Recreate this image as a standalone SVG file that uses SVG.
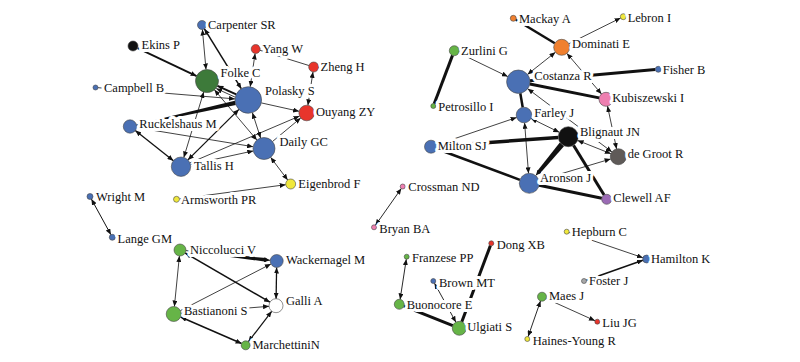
<svg xmlns="http://www.w3.org/2000/svg" width="800" height="362" viewBox="0 0 800 362">
<defs>
<marker id="ah" markerUnits="userSpaceOnUse" markerWidth="6" markerHeight="5" refX="6" refY="2.5" orient="auto-start-reverse">
<path d="M0,0 L6,2.5 L0,5 z" fill="#111"/>
</marker>
<style>
.e{stroke:#111;fill:none;stroke-width:0.8}
.m{stroke-width:1.3}
.t{stroke-width:3}
.w{fill:#111;stroke:none}
.a{marker-end:url(#ah)}
.b{marker-start:url(#ah);marker-end:url(#ah)}
circle{stroke:#444;stroke-width:0.6}
text{font-family:"Liberation Serif","Times New Roman",serif;font-size:12.5px;fill:#111;stroke:#fff;stroke-width:6;stroke-linejoin:round;paint-order:stroke}
.bl{fill:#4a70b4}.gd{fill:#3d7a3a}.gr{fill:#66b447}.rd{fill:#e8352c}.ye{fill:#f0e83c}.or{fill:#f0802f}.pk{fill:#ee7fb0}.pu{fill:#9b6bb5}.gy{fill:#5f5a58}.lg{fill:#a8a8a8}.bk{fill:#111}.wh{fill:#fff}
</style>
</defs>
<rect width="800" height="362" fill="#fff"/>
<g id="connectors">
<line class="e a" x1="137.5" y1="48.1" x2="196.6" y2="76.1" style="stroke-width:1.8"/>
<line class="e b" x1="202.4" y1="29.5" x2="206" y2="69.5"/>
<line class="e b" x1="241.3" y1="88.7" x2="204.4" y2="28.8" style="stroke-width:1.5"/>
<line class="e a" x1="98" y1="87.7" x2="235" y2="98.9"/>
<line class="e a" x1="236.2" y1="94.4" x2="217.4" y2="85.8" style="stroke-width:2"/>
<line class="e a" x1="235" y1="97.1" x2="216.2" y2="88.5"/>
<polygon class="w" points="136.6,125.6 235.8,105.0 234.8,100.8 136.4,124.4"/>
<line class="e b m" x1="135.3" y1="130.6" x2="173.4" y2="160.7"/>
<line class="e b m" x1="187.9" y1="159.9" x2="238.9" y2="109.4"/>
<line class="e b" x1="203.7" y1="92" x2="183.8" y2="157.4"/>
<line class="e b" x1="214.4" y1="89.8" x2="256.9" y2="140.1"/>
<line class="e a" x1="136.6" y1="127.6" x2="253.1" y2="146.7"/>
<line class="e b" x1="252.4" y1="112.7" x2="260.6" y2="138"/>
<line class="e a" x1="261.3" y1="102.9" x2="299.1" y2="111.3"/>
<line class="e a" x1="189.9" y1="162.9" x2="299.5" y2="116.1"/>
<line class="e a" x1="272.5" y1="141.5" x2="300.7" y2="118"/>
<line class="e a" x1="190.5" y1="164.6" x2="253.3" y2="150.9"/>
<line class="e b" x1="250.2" y1="86.8" x2="255.1" y2="53.5"/>
<line class="e" x1="260" y1="50.3" x2="308.9" y2="65.5"/>
<line class="e b" x1="313" y1="71.9" x2="307.9" y2="105.3"/>
<line class="e b" x1="270.6" y1="157.3" x2="287.7" y2="180"/>
<line class="e a" x1="179.5" y1="198.9" x2="285.7" y2="184.7"/>
<line class="e b" x1="91.4" y1="199.1" x2="110.9" y2="234.7" style="stroke-width:1"/>
<polygon class="w" points="185.95,251.1 266.0,261.7 266.4,258.1 186.05,250.3"/>
<line class="e a" x1="265" y1="259.8" x2="270.2" y2="260.3"/>
<line class="e b" x1="185.2" y1="253" x2="269.9" y2="302.2" style="stroke-width:1.5"/>
<line class="e b" x1="179.4" y1="256" x2="174.4" y2="306.5"/>
<line class="e a" x1="180.4" y1="310.6" x2="270.9" y2="264"/>
<line class="e b m" x1="276.6" y1="267.5" x2="276.1" y2="298.7"/>
<line class="e a" x1="181.2" y1="313.4" x2="269" y2="306.3"/>
<line class="e b" x1="180.6" y1="317" x2="241.6" y2="343.5" style="stroke-width:1.5"/>
<line class="e b" x1="271.7" y1="311.3" x2="248.4" y2="341.7" style="stroke-width:1.2"/>
<line class="e a" x1="554.8" y1="43.2" x2="515.9" y2="19.8" style="stroke-width:2.5"/>
<line class="e a" x1="568.9" y1="43.7" x2="620.6" y2="18"/>
<line class="e b" x1="527.5" y1="74.4" x2="555.4" y2="52.3"/>
<line class="e b" x1="566.9" y1="53.4" x2="601.5" y2="94"/>
<line class="e a" x1="458.8" y1="52.9" x2="507.8" y2="76.6"/>
<line class="e t" x1="452.5" y1="55.4" x2="434.2" y2="103.7"/>
<line class="e t" x1="530" y1="80.7" x2="655.3" y2="69.6"/>
<line class="e t" x1="529.8" y1="84" x2="599.1" y2="97.9"/>
<line class="e" x1="520.3" y1="93.2" x2="522.7" y2="107.3" style="stroke-width:2.5"/>
<line class="e b" x1="611.9" y1="151.9" x2="527.7" y2="88.7"/>
<line class="e b" x1="607.5" y1="106.1" x2="616.6" y2="148.9"/>
<line class="e b" x1="531" y1="118.4" x2="559.3" y2="132.3"/>
<line class="e b" x1="577.6" y1="140.4" x2="610.9" y2="153.7"/>
<line class="e a" x1="437.2" y1="144.6" x2="516.6" y2="117.5"/>
<line class="e" x1="437.5" y1="146.2" x2="558.3" y2="137.4" style="stroke-width:3.5"/>
<line class="e" x1="437.1" y1="149" x2="519.9" y2="179.8" style="stroke-width:2.5"/>
<line class="e b" x1="524.6" y1="122.8" x2="528.5" y2="173.3"/>
<polygon class="w" points="564.0,146.2 559.8,142.6 536.9,171.4 539.7,173.8"/>
<line class="e a" x1="539" y1="171.8" x2="535.7" y2="175.6"/>
<line class="e t" x1="573.5" y1="145.2" x2="604.1" y2="195"/>
<line class="e t" x1="539.1" y1="185.3" x2="601.8" y2="198.3"/>
<line class="e a" x1="538.9" y1="180.4" x2="610.6" y2="159"/>
<line class="e b" x1="401.3" y1="188.5" x2="375.4" y2="225.3" style="stroke-width:0.9"/>
<line class="e b" x1="406.3" y1="259.2" x2="400.1" y2="299.4" style="stroke-width:0.9"/>
<line class="e b" x1="434.5" y1="283.2" x2="455.9" y2="322.2" style="stroke-width:0.9"/>
<line class="e t" x1="490.4" y1="245.6" x2="461.8" y2="321.7"/>
<line class="e t" x1="403.9" y1="306.2" x2="452.8" y2="325.7"/>
<line class="e a" x1="569.1" y1="232.5" x2="642.9" y2="257.7"/>
<line class="e a" x1="586.4" y1="280.2" x2="642.9" y2="260.3" style="stroke-width:1.5"/>
<line class="e b" x1="540.5" y1="301" x2="528.1" y2="336.6" style="stroke-width:0.9"/>
<line class="e a" x1="546.1" y1="298.6" x2="595" y2="320.7"/>
</g>
<g id="CarpenterSR"><circle class="bl" cx="202" cy="25" r="4.5"/><text x="208" y="28.5">Carpenter SR</text></g>
<g id="EkinsP"><circle class="bk" cx="133" cy="46" r="5"/><text x="141.5" y="49">Ekins P</text></g>
<g id="YangW"><circle class="rd" cx="255.7" cy="49" r="4.5"/><text x="262.5" y="52.5">Yang W</text></g>
<g id="ZhengH"><circle class="rd" cx="313.7" cy="67" r="5"/><text x="320.5" y="71">Zheng H</text></g>
<g id="FolkeC"><circle class="gd" cx="207" cy="81" r="11.5"/><text x="220.5" y="77">Folke C</text></g>
<g id="CampbellB"><circle class="bl" cx="95.5" cy="87.5" r="2.5"/><text x="104" y="91.5">Campbell B</text></g>
<g id="PolaskyS"><circle class="bl" cx="248.3" cy="100" r="13.3"/><text x="265" y="94.5">Polasky S</text></g>
<g id="OuyangZY"><circle class="rd" cx="306.7" cy="113" r="7.8"/><text x="316" y="116">Ouyang ZY</text></g>
<g id="RuckelshausM"><circle class="bl" cx="130" cy="126.5" r="6.7"/><text x="139.3" y="128">Ruckelshaus M</text></g>
<g id="DailyGC"><circle class="bl" cx="264" cy="148.5" r="11"/><text x="279.5" y="146">Daily GC</text></g>
<g id="TallisH"><circle class="bl" cx="181" cy="166.7" r="9.7"/><text x="194" y="170">Tallis H</text></g>
<g id="EigenbrodF"><circle class="ye" cx="290.7" cy="184" r="5"/><text x="298.3" y="188">Eigenbrod F</text></g>
<g id="ArmsworthPR"><circle class="ye" cx="176.5" cy="199.3" r="3"/><text x="181" y="203.5">Armsworth PR</text></g>
<g id="WrightM"><circle class="bl" cx="90" cy="196.5" r="3"/><text x="96" y="201">Wright M</text></g>
<g id="LangeGM"><circle class="bl" cx="112.3" cy="237.3" r="3"/><text x="117.5" y="242.5">Lange GM</text></g>
<g id="NiccolucciV"><circle class="gr" cx="180" cy="250" r="6"/><text x="190" y="254">Niccolucci V</text></g>
<g id="WackernagelM"><circle class="bl" cx="276.7" cy="261" r="6.5"/><text x="286" y="263.5">Wackernagel M</text></g>
<g id="GalliA"><circle class="wh" cx="276" cy="305.7" r="7"/><text x="286" y="305">Galli A</text></g>
<g id="BastianoniS"><circle class="gr" cx="173.7" cy="314" r="7.5"/><text x="184" y="315">Bastianoni S</text></g>
<g id="MarchettiniN"><circle class="gr" cx="245.7" cy="345.3" r="4.5"/><text x="252.5" y="349">MarchettiniN</text></g>
<g id="MackayA"><circle class="or" cx="513.3" cy="18.3" r="3"/><text x="519" y="23.3">Mackay A</text></g>
<g id="LebronI"><circle class="ye" cx="623.3" cy="16.7" r="3"/><text x="627.7" y="22.3">Lebron I</text></g>
<g id="DominatiE"><circle class="or" cx="561.7" cy="47.3" r="8"/><text x="572" y="47.5">Dominati E</text></g>
<g id="ZurliniG"><circle class="gr" cx="454.3" cy="50.7" r="5"/><text x="461" y="54.5">Zurlini G</text></g>
<g id="CostanzaR"><circle class="bl" cx="518.3" cy="81.7" r="11.7"/><text x="534.3" y="79.5">Costanza R</text></g>
<g id="FisherB"><circle class="bl" cx="658.3" cy="69.3" r="3"/><text x="662.7" y="74">Fisher B</text></g>
<g id="KubiszewskiI"><circle class="pk" cx="606" cy="99.3" r="7"/><text x="612.3" y="101.5">Kubiszewski I</text></g>
<g id="PetrosilloI"><circle class="gr" cx="433.3" cy="106" r="2.5"/><text x="438.3" y="111">Petrosillo I</text></g>
<g id="FarleyJ"><circle class="bl" cx="524" cy="115" r="7.8"/><text x="534.3" y="117">Farley J</text></g>
<g id="BlignautJN"><circle class="bk" cx="568.3" cy="136.7" r="10"/><text x="580" y="135.5">Blignaut JN</text></g>
<g id="MiltonSJ"><circle class="bl" cx="431" cy="146.7" r="6.5"/><text x="437.7" y="149.5">Milton SJ</text></g>
<g id="deGrootR"><circle class="gy" cx="618.3" cy="156.7" r="8"/><text x="627.7" y="157.5">de Groot R</text></g>
<g id="AronsonJ"><circle class="bl" cx="529.3" cy="183.3" r="10"/><text x="540" y="182">Aronson J</text></g>
<g id="ClewellAF"><circle class="pu" cx="606.7" cy="199.3" r="5"/><text x="613.3" y="202">Clewell AF</text></g>
<g id="CrossmanND"><circle class="pk" cx="402.7" cy="186.5" r="2.5"/><text x="408.3" y="191">Crossman ND</text></g>
<g id="BryanBA"><circle class="pk" cx="374" cy="227.3" r="2.5"/><text x="379.3" y="232.5">Bryan BA</text></g>
<g id="HepburnC"><circle class="ye" cx="566.7" cy="231.7" r="2.5"/><text x="571.7" y="236">Hepburn C</text></g>
<g id="DongXB"><circle class="rd" cx="491.3" cy="243.3" r="2.5"/><text x="496.7" y="248.5">Dong XB</text></g>
<g id="FranzesePP"><circle class="gr" cx="406.7" cy="256.7" r="2.5"/><text x="412" y="261.5">Franzese PP</text></g>
<g id="HamiltonK"><circle class="bl" cx="646.7" cy="259" r="4"/><text x="651" y="262.7">Hamilton K</text></g>
<g id="BrownMT"><circle class="bl" cx="433.3" cy="281" r="2.5"/><text x="439" y="286.5">Brown MT</text></g>
<g id="FosterJ"><circle class="lg" cx="584" cy="281" r="2.5"/><text x="589" y="285">Foster J</text></g>
<g id="MaesJ"><circle class="gr" cx="542" cy="296.7" r="4.5"/><text x="549" y="300">Maes J</text></g>
<g id="BuonocoreE"><circle class="gr" cx="399.3" cy="304.3" r="5"/><text x="406.7" y="308.5">Buonocore E</text></g>
<g id="UlgiatiS"><circle class="gr" cx="459.3" cy="328.3" r="7"/><text x="467.3" y="331">Ulgiati S</text></g>
<g id="LiuJG"><circle class="rd" cx="597.3" cy="321.7" r="2.5"/><text x="602.3" y="326.5">Liu JG</text></g>
<g id="HainesYoungR"><circle class="ye" cx="527.3" cy="339" r="2.5"/><text x="532.7" y="344.5">Haines-Young R</text></g>
</svg>
